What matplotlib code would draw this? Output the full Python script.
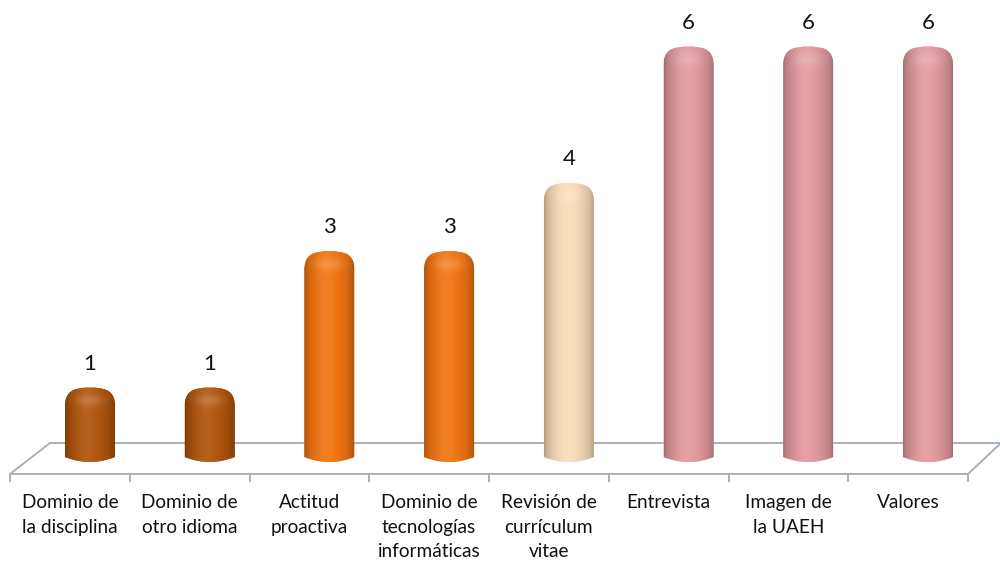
import numpy as np
import matplotlib
matplotlib.use("Agg")
import matplotlib.pyplot as plt
from matplotlib.path import Path
from matplotlib.patches import PathPatch
from matplotlib.colors import to_rgb

# ---------------- data ----------------
categories = [
    "Dominio de\nla disciplina",
    "Dominio de\notro idioma",
    "Actitud\nproactiva",
    "Dominio de\ntecnologías\ninformáticas",
    "Revisión de\ncurrículum\nvitae",
    "Entrevista",
    "Imagen de\nla UAEH",
    "Valores",
]
values = [1, 1, 3, 3, 4, 6, 6, 6]
bar_colors = ["#B0550C", "#B0550C", "#F27512", "#F27512",
              "#FADCB8", "#E29A9F", "#E29A9F", "#E29A9F"]

plt.rcParams['font.family'] = ['Lato', 'DejaVu Sans']

W, H = 1000, 565
fig = plt.figure(figsize=(W / 100, H / 100), dpi=100)
ax = fig.add_axes([0, 0, 1, 1])

# pixel scale of the scene
PX_X = 119.71   # px per category
X0 = 90         # px of first bar centre
PX_Y = 68.2     # px per unit value
Y0 = 109        # px (from bottom) of value 0
ax.set_xlim(-X0 / PX_X, (W - X0) / PX_X)
ax.set_ylim(-Y0 / PX_Y, (H - Y0) / PX_Y)
ax.axis('off')


def X(px):
    return (px - X0) / PX_X


def Y(py_top):
    return (H - py_top - Y0) / PX_Y


# ---------------- floor ----------------
floor_col = "#A9B0B8"
fx = [X(10), X(968), X(1001), X(50), X(10)]
fy = [Y(474), Y(474), Y(443), Y(443), Y(474)]
ax.plot(fx, fy, color=floor_col, lw=1.4, zorder=1, solid_capstyle='butt')
for k in range(len(categories) + 1):
    tx = X(10) + k * 119.75 / PX_X
    ax.plot([tx, tx], [Y(474), Y(481)], color=floor_col, lw=1.4, zorder=1)

# ---------------- category labels ----------------
for k, lab in enumerate(categories):
    tx = X(10) + (k + 0.5) * 119.75 / PX_X
    ax.text(tx, Y(494), lab, ha='center', va='top', fontsize=13.7,
            linespacing=1.55, color='#111111')

# ---------------- cylinders ----------------
hw = 25 / PX_X
rx = 15 / PX_X
ry = 18 / PX_Y
crown = 2 / PX_Y
dip = 5 / PX_Y
base = Y(457)

nx, ny = 120, 400
t = np.linspace(0, 1, nx)
# horizontal shading profile (dark edges, light slightly left of centre)
prof = 0.68 + 0.32 * np.sin(np.pi * t) ** 0.5
hl = np.exp(-((t - 0.42) / 0.2) ** 2) * 0.07

for i, (v, c) in enumerate(zip(values, bar_colors)):
    cx = i
    top = v
    verts = [
        (cx - hw, base),
        (cx - hw, top - ry),
        (cx - hw, top - crown), (cx - hw + rx, top - crown * 0.3),
        (cx, top + crown * 0.7), (cx + hw - rx, top - crown * 0.3),
        (cx + hw, top - crown), (cx + hw, top - ry),
        (cx + hw, base),
        (cx, base - 2 * dip), (cx - hw, base),
        (cx - hw, base),
    ]
    codes = [Path.MOVETO, Path.LINETO,
             Path.CURVE3, Path.CURVE3,
             Path.CURVE3, Path.CURVE3,
             Path.CURVE3, Path.CURVE3,
             Path.LINETO,
             Path.CURVE3, Path.CURVE3,
             Path.CLOSEPOLY]
    path = Path(verts, codes)
    patch = PathPatch(path, facecolor=c, edgecolor='none', zorder=3)
    ax.add_patch(patch)

    rgb = np.array(to_rgb(c))
    y0b, y1b = base - 2 * dip, top + crown
    ys = np.linspace(y0b, y1b, ny)
    # soft highlight band on the rounded cap
    cap_hl = np.exp(-((ys - (top - 13 / PX_Y)) / (6 / PX_Y)) ** 2) * 0.16
    col = rgb[None, None, :] * prof[None, :, None]
    mixw = hl[None, :] + cap_hl[:, None] * np.sin(np.pi * t)[None, :] ** 2
    img = col * (1 - mixw[:, :, None]) + mixw[:, :, None]
    img = np.clip(img, 0, 1)
    im = ax.imshow(img, extent=(cx - hw, cx + hw, y0b, y1b), origin='lower',
                   aspect='auto', zorder=4, interpolation='bilinear')
    im.set_clip_path(patch)

    ax.text(cx, top + 24 / PX_Y, str(v), ha='center', va='center',
            fontsize=16, color='#111111', zorder=5)

fig.savefig("out.png", dpi=100)
